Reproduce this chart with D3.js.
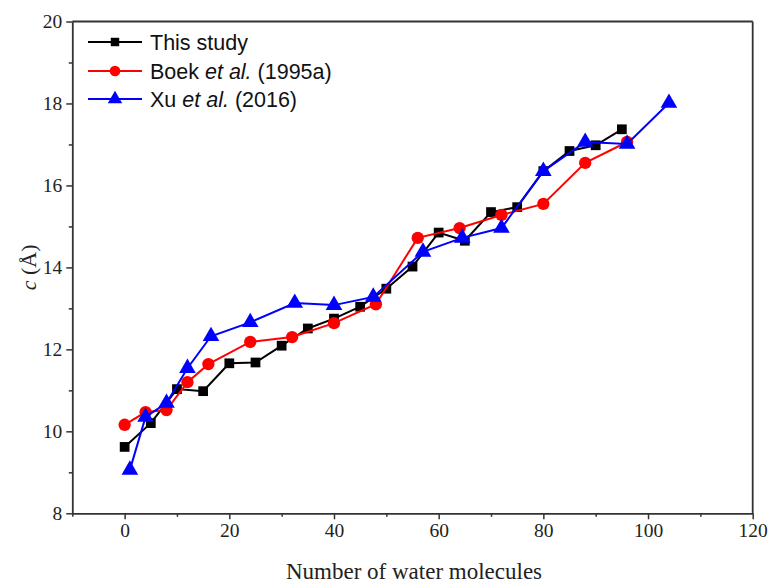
<!DOCTYPE html>
<html><head><meta charset="utf-8">
<script src="https://cdn.jsdelivr.net/npm/d3@7/dist/d3.min.js"></script>
<style>body{margin:0;background:#fff}</style>
</head><body>
<svg id="chart" width="773" height="584"></svg>
<script>
const seriesNames = ["This study", "Boek et al. (1995a)", "Xu et al. (2016)"];
const studyX = [0,5,10,15,20,25,30,35,40,45,50,55,60,65,70,75,80,85,90,95];
const studyY = [9.62,10.20,11.03,10.98,11.66,11.68,12.09,12.51,12.75,13.04,13.48,14.02,14.85,14.65,15.35,15.47,16.35,16.84,16.98,17.37];
const boekX = [0,4,8,12,16,24,32,40,48,56,64,72,80,88,96];
const boekY = [10.16,10.47,10.52,11.20,11.64,12.18,12.30,12.64,13.10,14.72,14.96,15.28,15.55,16.55,17.06];
const xuX = [1,4,8,12,16.5,24,32.5,40,47.5,57,64.5,72,80,88,96,104];
const xuY = [9.06,10.35,10.69,11.54,12.32,12.66,13.13,13.08,13.28,14.38,14.72,14.96,16.35,17.06,17.01,18.01];
const xTicks = [0,20,40,60,80,100,120];
const yTicks = [8,10,12,14,16,18,20];

const svg = d3.select("#chart");
const L = 72.3, R = 752.7, T = 21.5, B = 513.3;
const x = d3.scaleLinear().domain([-10,120]).range([L,R]);
const y = d3.scaleLinear().domain([8,20]).range([B,T]);
const axisColor = "#333";

// frame top/right
svg.append("line").attr("x1",L).attr("x2",R).attr("y1",T).attr("y2",T).attr("stroke",axisColor).attr("stroke-width",1.8);
svg.append("line").attr("x1",R).attr("x2",R).attr("y1",T).attr("y2",B).attr("stroke",axisColor).attr("stroke-width",1.8);

// minor ticks
const xMinor = d3.range(-10,121,10).filter(v=>v%20!==0);
const yMinor = d3.range(9,20,2);
const xAxis = svg.append("g").attr("transform",`translate(0,${B})`)
  .call(d3.axisBottom(x).tickValues(xTicks).tickSize(6).tickSizeOuter(0).tickPadding(4));
const xAxisMinor = svg.append("g").attr("transform",`translate(0,${B})`)
  .call(d3.axisBottom(x).tickValues(xMinor).tickSize(3.5).tickSizeOuter(0).tickFormat(""));
const yAxis = svg.append("g").attr("transform",`translate(${L},0)`)
  .call(d3.axisLeft(y).tickValues(yTicks).tickSize(6).tickSizeOuter(0).tickPadding(4));
const yAxisMinor = svg.append("g").attr("transform",`translate(${L},0)`)
  .call(d3.axisLeft(y).tickValues(yMinor).tickSize(3.5).tickSizeOuter(0).tickFormat(""));
[xAxis,xAxisMinor,yAxis,yAxisMinor].forEach(g=>{
  g.select(".domain").attr("stroke",axisColor).attr("stroke-width",1.8);
  g.selectAll(".tick line").attr("stroke",axisColor).attr("stroke-width",1.5);
  g.selectAll(".tick text").attr("fill","#222").style("font-family","'Liberation Serif', serif").style("font-size","19.5px");
});
xAxisMinor.select(".domain").remove(); yAxisMinor.select(".domain").remove();

// axis titles
svg.append("text").attr("x",414).attr("y",579).attr("text-anchor","middle")
  .style("font-family","'Liberation Serif', serif").style("font-size","23px").attr("fill","#222")
  .text("Number of water molecules");
const yl = svg.append("text").attr("transform",`translate(36,${(T+B)/2}) rotate(-90)`).attr("text-anchor","middle")
  .style("font-family","'Liberation Serif', serif").style("font-size","22px").attr("fill","#222");
yl.append("tspan").style("font-style","italic").text("c");
yl.append("tspan").text(" (Å)");

const series = [
  {name:seriesNames[0], xs:studyX, ys:studyY, color:"#000000", shape:d3.symbolSquare, size:95},
  {name:seriesNames[1], xs:boekX, ys:boekY, color:"#ff0000", shape:d3.symbolCircle, size:120},
  {name:seriesNames[2], xs:xuX, ys:xuY, color:"#0000ff", shape:d3.symbolTriangle, size:120}
];
const line = d3.line().x(d=>x(d[0])).y(d=>y(d[1]));
series.forEach(s=>{
  const pts = s.xs.map((v,i)=>[v,s.ys[i]]);
  svg.append("path").datum(pts).attr("d",line).attr("fill","none").attr("stroke",s.color).attr("stroke-width",2);
  svg.selectAll(null).data(pts).enter().append("path")
    .attr("d",d3.symbol().type(s.shape).size(s.size))
    .attr("transform",d=>`translate(${x(d[0])},${y(d[1])})`)
    .attr("fill",s.color);
});

// legend
const lg = svg.append("g");
const rowsY = [42,71,99];
series.forEach((s,i)=>{
  const yy = rowsY[i];
  lg.append("line").attr("x1",88).attr("x2",142).attr("y1",yy).attr("y2",yy).attr("stroke",s.color).attr("stroke-width",2);
  lg.append("path").attr("d",d3.symbol().type(s.shape).size(s.size*0.75)).attr("transform",`translate(115,${yy})`).attr("fill",s.color);
  const t = lg.append("text").attr("x",150).attr("y",yy+7.5).style("font-family","'Liberation Sans', Arial, sans-serif").style("font-size","21.5px").attr("fill","#111");
  if(i===0){ t.text(s.name); }
  else {
    const parts = s.name.split("et al.");
    t.append("tspan").text(parts[0]);
    t.append("tspan").style("font-style","italic").text("et al.");
    t.append("tspan").text(parts[1]);
  }
});
</script>
</body></html>
